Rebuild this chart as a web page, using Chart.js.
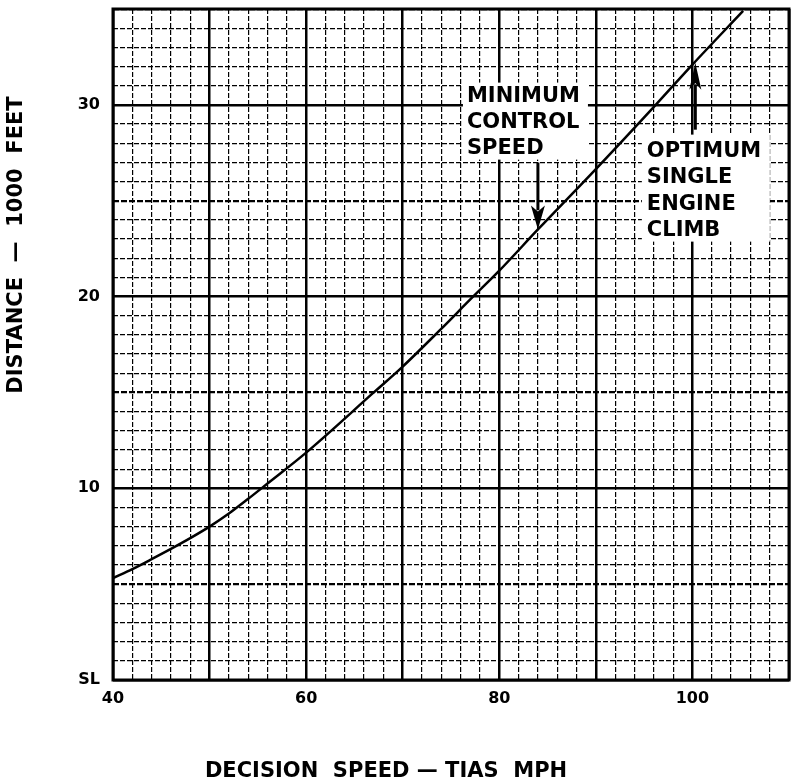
<!DOCTYPE html>
<html>
<head>
<meta charset="utf-8">
<script src="https://cdn.jsdelivr.net/npm/chart.js@4"></script>
<style>
  html, body { margin: 0; padding: 0; background: #fff; }
</style>
</head>
<body>
<canvas id="myChart" width="793" height="784"></canvas>
<script>
// Values (decision speed in mph, distance in 1000 ft)
const speeds    = [40, 42, 44, 46, 48, 50, 52, 54, 56, 60, 67, 70, 73.85, 77.1, 80, 84, 90, 96.2, 100, 105.25];
const distances = [5.31, 5.78, 6.3, 6.84, 7.4, 8.0, 8.68, 9.45, 10.25, 11.86, 15.0, 16.35, 18.25, 19.9, 21.35, 23.5, 26.65, 30.0, 32.1, 34.9];

const xTickLabels = { 40: "40", 60: "60", 80: "80", 100: "100" };
const yTickLabels = { 0: "SL", 10: "10", 20: "20", 30: "30" };

const xTitle = "DECISION  SPEED — TIAS  MPH";
const yTitle = "DISTANCE  —  1000  FEET";

// callouts: text lines, where the first line starts, and where the arrow points
const minControlLines = ["MINIMUM", "CONTROL", "SPEED"];
const minControlText = [76.65, 30.17];
const minControlTip = [84.0, 23.5];
const optClimbLines = ["OPTIMUM", "SINGLE", "ENGINE", "CLIMB"];
const optClimbText = [95.28, 27.3];
const optClimbTip = [100.3, 32.2];

const FONT = "'DejaVu Sans', sans-serif";

function drawArrow(ctx, x, tipY, tailY, headLen, headW) {
    let dir = tailY > tipY ? 1 : -1;
    ctx.beginPath();
    ctx.moveTo(x, tailY);
    ctx.lineTo(x, tipY + dir * headLen * 0.8);
    ctx.lineWidth = 3;
    ctx.strokeStyle = "#000";
    ctx.stroke();
    ctx.beginPath();
    ctx.moveTo(x, tipY);
    ctx.lineTo(x - headW / 2, tipY + dir * headLen);
    ctx.lineTo(x, tipY + dir * headLen * 0.75);
    ctx.lineTo(x + headW / 2, tipY + dir * headLen);
    ctx.closePath();
    ctx.fillStyle = "#000";
    ctx.fill();
}

function drawCallout(ctx, lines, x, y, box, step) {
    ctx.fillStyle = "#fff";
    ctx.fillRect(x + box[0], y + box[1], box[2], box[3]);
    ctx.fillStyle = "#000";
    ctx.font = "bold 21px " + FONT;
    ctx.textAlign = "left";
    ctx.textBaseline = "alphabetic";
    for (let i = 0; i < lines.length; i++) {
        ctx.fillText(lines[i], x, y + i * step);
    }
}

const extras = {
    id: "extras",
    beforeDraw(chart) {
        const ctx = chart.ctx;
        ctx.save();
        ctx.fillStyle = "#fff";
        ctx.fillRect(0, 0, chart.width, chart.height);
        ctx.restore();
    },
    afterDatasetsDraw(chart) {
        const ctx = chart.ctx;
        const xs = chart.scales.x, ys = chart.scales.y;
        const area = chart.chartArea;
        ctx.save();

        // text boxes
        drawCallout(ctx, minControlLines, xs.getPixelForValue(minControlText[0]),
            ys.getPixelForValue(minControlText[1]), [-4, -19, 125, 77], 26);
        drawCallout(ctx, optClimbLines, xs.getPixelForValue(optClimbText[0]),
            ys.getPixelForValue(optClimbText[1]), [-5, -22, 128, 107], 26.5);

        // arrows
        let tip1 = ys.getPixelForValue(minControlTip[1]);
        drawArrow(ctx, xs.getPixelForValue(minControlTip[0]), tip1, tip1 - 67, 24, 14);
        let tip2 = ys.getPixelForValue(optClimbTip[1]);
        drawArrow(ctx, xs.getPixelForValue(optClimbTip[0]), tip2, tip2 + 67, 27, 12);

        // frame
        ctx.lineWidth = 3;
        ctx.strokeStyle = "#000";
        ctx.strokeRect(area.left, area.top, area.right - area.left, area.bottom - area.top);

        // axis titles
        ctx.fillStyle = "#000";
        ctx.font = "bold 21px " + FONT;
        ctx.textAlign = "center";
        ctx.textBaseline = "middle";
        ctx.fillText(xTitle, 386, 772);
        ctx.translate(17, 245);
        ctx.rotate(-Math.PI / 2);
        ctx.fillText(yTitle, 0, 0);
        ctx.restore();
    }
};

const points = speeds.map(function(s, i) {
    return { x: s, y: distances[i] };
});

const config = {
    type: "line",
    data: {
        datasets: [{
            data: points,
            borderColor: "#000",
            borderWidth: 2.5,
            pointRadius: 0,
            fill: false,
            cubicInterpolationMode: "monotone"
        }]
    },
    options: {
        responsive: false,
        animation: false,
        layout: { padding: { top: 9, right: 4, left: 0, bottom: 0 } },
        plugins: { legend: { display: false }, tooltip: { enabled: false } },
        scales: {
            x: {
                type: "linear",
                min: 40,
                max: 110,
                afterFit: function(s) {
                    s.height = 104;
                    s.paddingLeft = 0;
                    s.paddingRight = 0;
                },
                border: {
                    display: false,
                    dash: function(c) {
                        let v = c.tick ? c.tick.value : 0;
                        return v % 10 === 0 ? [] : [5, 2];
                    }
                },
                grid: {
                    color: "#000",
                    drawTicks: false,
                    lineWidth: function(c) {
                        let v = c.tick ? c.tick.value : 0;
                        return v % 10 === 0 ? 2.5 : 1.2;
                    }
                },
                ticks: {
                    stepSize: 2,
                    autoSkip: false,
                    maxRotation: 0,
                    padding: 9,
                    color: "#000",
                    font: { family: FONT, size: 16, weight: "bold" },
                    callback: function(v) { return xTickLabels[v] || ""; }
                }
            },
            y: {
                type: "linear",
                min: 0,
                max: 35,
                afterFit: function(s) {
                    s.width = 113;
                    s.paddingTop = 0;
                    s.paddingBottom = 0;
                },
                border: {
                    display: false,
                    dash: function(c) {
                        let v = c.tick ? c.tick.value : 0;
                        if (v % 10 === 0) return [];
                        if (v % 5 === 0) return [6, 2];
                        return [5, 2];
                    }
                },
                grid: {
                    color: "#000",
                    drawTicks: false,
                    lineWidth: function(c) {
                        let v = c.tick ? c.tick.value : 0;
                        if (v % 10 === 0) return 2.5;
                        if (v % 5 === 0) return 2.2;
                        return 1.2;
                    }
                },
                ticks: {
                    stepSize: 1,
                    autoSkip: false,
                    padding: 13,
                    color: "#000",
                    font: { family: FONT, size: 16, weight: "bold" },
                    callback: function(v) { return yTickLabels[v] || ""; }
                }
            }
        }
    },
    plugins: [extras]
};

const myChart = new Chart(document.getElementById("myChart"), config);
</script>
</body>
</html>
